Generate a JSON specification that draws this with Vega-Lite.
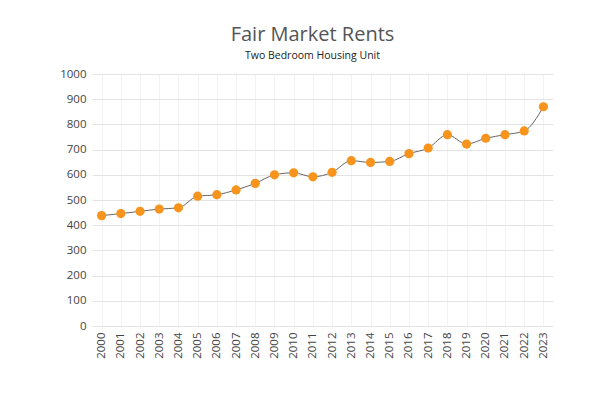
{
  "$schema": "https://vega.github.io/schema/vega-lite/v6.json",
  "width": 461,
  "height": 252,
  "autosize": {"type": "none"},
  "padding": {"left": 92, "top": 74, "right": 60, "bottom": 70},
  "background": "white",
  "title": {
    "text": "Fair Market Rents",
    "subtitle": "Two Bedroom Housing Unit",
    "anchor": "middle",
    "dx": -10,
    "offset": 7,
    "font": "Open Sans",
    "fontSize": 20,
    "fontWeight": "normal",
    "color": "#555555",
    "subtitleFont": "Open Sans",
    "subtitleFontSize": 10.5,
    "subtitleColor": "#222222",
    "subtitlePadding": 6
  },
  "data": {
    "values": [
      {"year": "2000", "rent": 438},
      {"year": "2001", "rent": 446},
      {"year": "2002", "rent": 455},
      {"year": "2003", "rent": 464},
      {"year": "2004", "rent": 469},
      {"year": "2005", "rent": 515},
      {"year": "2006", "rent": 521},
      {"year": "2007", "rent": 540},
      {"year": "2008", "rent": 566},
      {"year": "2009", "rent": 600},
      {"year": "2010", "rent": 608},
      {"year": "2011", "rent": 592},
      {"year": "2012", "rent": 610},
      {"year": "2013", "rent": 656},
      {"year": "2014", "rent": 649},
      {"year": "2015", "rent": 653},
      {"year": "2016", "rent": 684},
      {"year": "2017", "rent": 706},
      {"year": "2018", "rent": 759},
      {"year": "2019", "rent": 722},
      {"year": "2020", "rent": 745},
      {"year": "2021", "rent": 759},
      {"year": "2022", "rent": 774},
      {"year": "2023", "rent": 870}
    ]
  },
  "encoding": {
    "x": {
      "field": "year",
      "type": "ordinal",
      "scale": {"type": "point", "padding": 0.5},
      "axis": {
        "title": null,
        "labelAngle": 270,
        "labelFont": "Open Sans",
        "labelFontSize": 11.5,
        "labelColor": "#444444",
        "labelPadding": 6,
        "ticks": false,
        "domain": false,
        "grid": true,
        "gridColor": "#f2f2f2",
        "gridWidth": 1
      }
    },
    "y": {
      "field": "rent",
      "type": "quantitative",
      "scale": {"domain": [0, 1000]},
      "axis": {
        "title": null,
        "format": "d",
        "values": [0, 100, 200, 300, 400, 500, 600, 700, 800, 900, 1000],
        "labelFont": "Open Sans",
        "labelFontSize": 11.5,
        "labelColor": "#444444",
        "labelPadding": 6,
        "ticks": false,
        "domain": false,
        "grid": true,
        "gridColor": "#e3e3e3",
        "gridWidth": 1
      }
    }
  },
  "layer": [
    {"mark": {"type": "line", "color": "#666666", "strokeWidth": 1, "interpolate": "monotone"}},
    {"mark": {"type": "circle", "color": "#F7941D", "opacity": 1, "size": 85}}
  ],
  "config": {"view": {"stroke": null}}
}
